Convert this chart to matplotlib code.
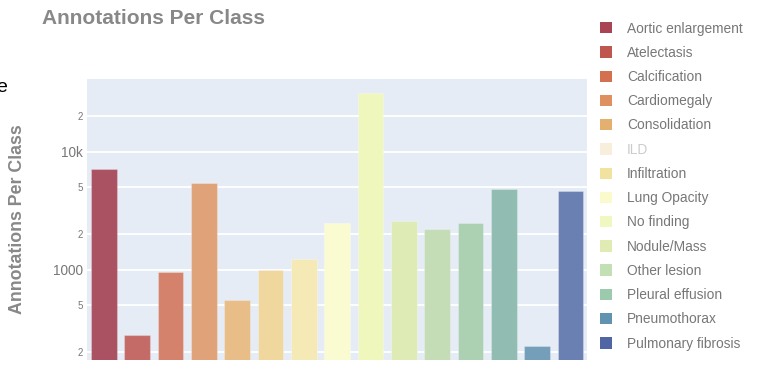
import numpy as np
import matplotlib.pyplot as plt
from matplotlib.patches import Patch
from matplotlib.ticker import FixedLocator, NullLocator

plt.rcParams['font.family'] = ['Liberation Sans', 'DejaVu Sans']

# data
classes = ['Aortic enlargement', 'Atelectasis', 'Calcification', 'Cardiomegaly',
           'Consolidation', 'ILD', 'Infiltration', 'Lung Opacity', 'No finding',
           'Nodule/Mass', 'Other lesion', 'Pleural effusion', 'Pleural thickening',
           'Pneumothorax', 'Pulmonary fibrosis']
counts = [7162, 279, 960, 5427, 556, 1000, 1247, 2483, 31818,
          2580, 2203, 2476, 4842, 226, 4655]
legend_classes = [c for c in classes if c != 'Pleural thickening']
hidden = ['ILD']

ytick_vals = [200, 500, 1000, 2000, 5000, 10000, 20000]
ytick_labels = ['2', '5', '1000', '2', '5', '10k', '2']

# colours as seen in picture
colors = ['#aa5262', '#c46b67', '#d4826b', '#e0a379', '#e8bd88', '#efd79e',
          '#f5eab6', '#fafbd0', '#eff7bd', '#dfebb5', '#c5ddb6', '#abd0b2',
          '#91bcb2', '#749eb9', '#6a80b2']
legend_colors = ['#a94455', '#c0574f', '#d2704f', '#de9060', '#e4b06f', '#f3e3c6',
                 '#f2e2a0', '#fbfacd', '#f0f7c0', '#dfebb3', '#c3e0b4', '#9bcbac',
                 '#5f93b0', '#5066a4']

W, H = 760, 374
fig = plt.figure(figsize=(W / 100, H / 100), dpi=100)
ax = fig.add_axes([87 / W, 1 - 360 / H, 500 / W, 281 / H])
ax.set_facecolor('#e5ecf6')

x = np.arange(len(classes))
ax.bar(x, counts, width=0.77, color=colors, edgecolor='#ffffff40', linewidth=0.8, zorder=3)

ax.set_yscale('log')
ax.set_ylim(172, 41600)
ax.set_xlim(-0.5, len(classes) - 0.5)
ax.yaxis.set_major_locator(FixedLocator(ytick_vals))
ax.yaxis.set_minor_locator(NullLocator())
ax.set_yticklabels(ytick_labels)
for lab, txt in zip(ax.get_yticklabels(), ytick_labels):
    lab.set_fontsize(9.8 if len(txt) > 1 else 7)
    lab.set_color('#777777')
ax.tick_params(axis='y', length=0, pad=3)
ax.set_xticks([])
ax.grid(axis='y', color='white', linewidth=1.3, zorder=0)
for s in ax.spines.values():
    s.set_visible(False)

fig.text(42 / W, 1 - 18 / H, 'Annotations Per Class', fontsize=15, fontweight='bold',
         color='#888888', va='center', ha='left')
fig.text(18 / W, 1 - 219 / H, 'Annotations Per Class', fontsize=12.8, fontweight='bold',
         color='#888888', va='center', ha='center', rotation=90)
fig.text(-4 / W, 1 - 88 / H, 'e', fontsize=14, color='black', va='center', ha='left')

handles = [Patch(facecolor=c, edgecolor='none') for c in legend_colors]
leg = fig.legend(handles, legend_classes, loc='upper left',
                 bbox_to_anchor=(594 / W, 1 - 16 / H), frameon=False,
                 fontsize=9.9, handlelength=0.9, handleheight=0.9,
                 handletextpad=1.1, labelspacing=0.745, borderaxespad=0)
for txt, h, name in zip(leg.get_texts(), leg.legend_handles, legend_classes):
    txt.set_color('#777777')
    if name in hidden:
        txt.set_color('#cccccc')
        h.set_alpha(0.6)

fig.savefig('out.png', dpi=100)
